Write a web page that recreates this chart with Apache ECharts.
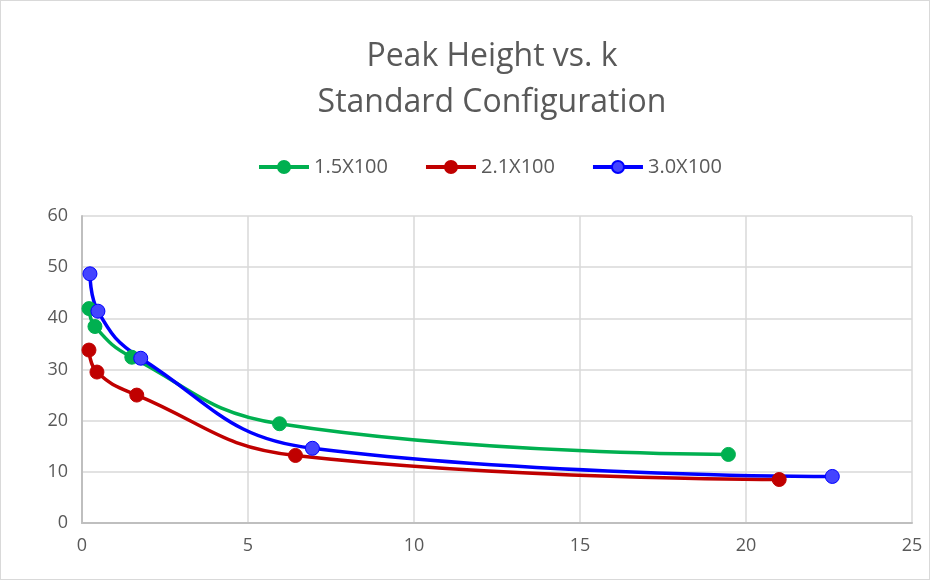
<!DOCTYPE html>
<html>
<head>
<meta charset="utf-8">
<script src="https://cdn.jsdelivr.net/npm/echarts@6/dist/echarts.min.js"></script>
<style>
  html, body { margin: 0; padding: 0; background: #fff; }
  #chart { width: 930px; height: 580px; box-sizing: border-box; border: 1px solid #d9d9d9; }
</style>
</head>
<body>
<div id="chart"></div>
<script>
// values
const green = [[0.21, 41.9], [0.39, 38.4], [1.5, 32.4], [5.95, 19.4], [19.47, 13.4]]
const red = [[0.21, 33.8], [0.45, 29.5], [1.65, 25.0], [6.43, 13.2], [21.0, 8.5]]
const blue = [[0.24, 48.7], [0.48, 41.4], [1.77, 32.2], [6.94, 14.6], [22.6, 9.1]]
const names = ['1.5X100', '2.1X100', '3.0X100']

const font = "'Open Sans', 'Liberation Sans', sans-serif"
const grey = '#595959'

let myChart = echarts.init(document.getElementById('chart'))

function line (name, data, color, fill) {
  return {
    name: name,
    type: 'line',
    smooth: 0.45,
    data: data,
    symbol: 'circle',
    symbolSize: 14,
    lineStyle: { color: color, width: 3.5 },
    itemStyle: { color: fill, borderColor: color, borderWidth: 1 }
  }
}

let option = {
  animation: false,
  title: {
    text: 'Peak Height vs. k\nStandard Configuration',
    left: 486,
    textAlign: 'center',
    top: 28,
    textStyle: { fontFamily: font, fontSize: 32, fontWeight: 'normal', color: grey, lineHeight: 46 }
  },
  legend: {
    top: 151,
    left: 251,
    itemGap: 36,
    itemWidth: 50,
    itemHeight: 15,
    textStyle: { fontFamily: font, fontSize: 20, color: grey },
    lineStyle: { width: 4 },
    data: names
  },
  grid: { left: 81, right: 17, top: 215, bottom: 56, containLabel: false },
  xAxis: {
    type: 'value',
    min: 0,
    max: 25,
    interval: 5,
    axisLine: { show: true, lineStyle: { color: '#bfbfbf', width: 2 } },
    axisTick: { show: false },
    splitLine: { show: true, lineStyle: { color: '#d9d9d9', width: 1.5 } },
    axisLabel: { fontFamily: font, fontSize: 18, color: grey, margin: 14 }
  },
  yAxis: {
    type: 'value',
    min: 0,
    max: 60,
    interval: 10,
    axisLine: { show: true, lineStyle: { color: '#bfbfbf', width: 2 } },
    axisTick: { show: false },
    splitLine: { show: true, lineStyle: { color: '#d9d9d9', width: 1.5 } },
    axisLabel: { fontFamily: font, fontSize: 18, color: grey, margin: 14 }
  },
  series: [
    line(names[0], green, '#00b050', '#00b050'),
    line(names[1], red, '#c00000', '#c00000'),
    line(names[2], blue, '#0000ff', '#4444ff')
  ]
}
myChart.setOption(option)
</script>
</body>
</html>
